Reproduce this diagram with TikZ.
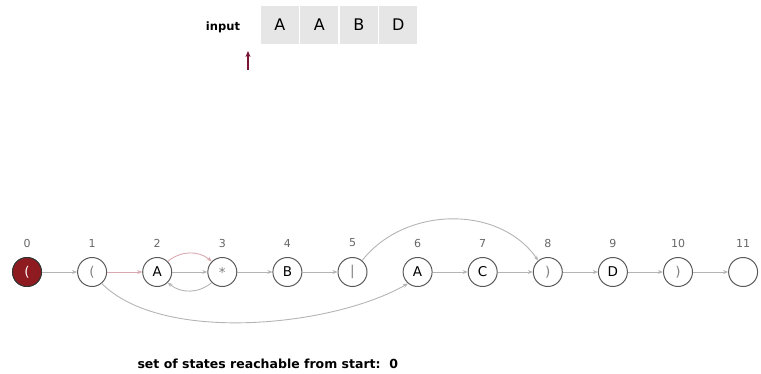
\documentclass[tikz,border=0pt]{standalone}
\usepackage{fontspec}
\setmainfont{DejaVu Sans}
\usetikzlibrary{arrows.meta}
\definecolor{edgegray}{HTML}{B4B4B4}
\definecolor{edgepink}{HTML}{D9A9B2}
\definecolor{darkred}{HTML}{8E1B20}
\definecolor{ptrred}{HTML}{7A1533}
\definecolor{boxgray}{HTML}{E6E6E6}
\tikzset{
  state/.style={circle,draw=black!65,line width=1pt,minimum size=29pt,inner sep=0pt,font=\fontsize{13.5}{13.5}\selectfont},
  lbl/.style={text=black!60,font=\fontsize{11}{11}\selectfont},
  edge/.style={draw=edgegray,line width=0.9pt,-{Stealth[length=5pt,width=4pt]}},
  pedge/.style={draw=edgepink,line width=0.9pt,-{Stealth[length=5pt,width=4pt]}},
  cell/.style={fill=boxgray,draw=white,line width=1.5pt,minimum width=39.5pt,minimum height=40pt,inner sep=0pt,font=\fontsize{16}{16}\selectfont},
}
\begin{document}
\begin{tikzpicture}[x=1pt,y=-1pt]
\useasboundingbox (0,0) rectangle (761,373);
% input
\node[font=\bfseries\fontsize{11.5}{11.5}\selectfont] (inp) at (223,27) {input};
\node[cell] (c1) at (279.75,25) {A};
\node[cell] (c2) at (319.25,25) {A};
\node[cell] (c3) at (358.75,25) {B};
\node[cell] (c4) at (398.25,25) {D};
\coordinate (ptrA) at (248,70);
\coordinate (ptrB) at (248,51);
\draw[draw=ptrred,line width=1.3pt,-{Stealth[length=6pt,width=5pt]}] (ptrA) -- (ptrB);
% states
\foreach \i/\t/\c in {0/(/gray,1/(/gray,2/A/black,3/*/gray,4/B/black,5/|/gray,6/A/black,7/C/black,8/)/gray,9/D/black,10/)/gray,11//black}{
  \node[state,text=\c] (s\i) at ({27+65.1*\i},272) {\t};
  \node[lbl] (l\i) at ({27+65.1*\i},243) {\i};
}
\node[state,fill=darkred,draw=black!80,text=white] at (s0) {(};
% straight edges
\draw[edge] (s0) -- (s1);
\draw[pedge] (s1) -- (s2);
\draw[edge] (s2) -- (s3);
\draw[edge] (s3) -- (s4);
\draw[edge] (s4) -- (s5);
\draw[edge] (s6) -- (s7);
\draw[edge] (s7) -- (s8);
\draw[edge] (s8) -- (s9);
\draw[edge] (s9) -- (s10);
\draw[edge] (s10) -- (s11);
% curved edges
\draw[pedge] (s2.45) to[out=40,in=140] (s3.135);
\draw[edge] (s3.-135) to[out=-140,in=-40] (s2.-45);
\draw[edge] (s5.50) to[out=52,in=125] (s8.130);
\draw[edge] (s1.-50) to[out=-45,in=-150,looseness=0.72] (s6.-130);
% bottom text
\node[anchor=west,font=\bfseries\fontsize{12.5}{12.5}\selectfont] (res) at (134,364) {set of states reachable from start:\ \ 0};
\end{tikzpicture}
\end{document}
